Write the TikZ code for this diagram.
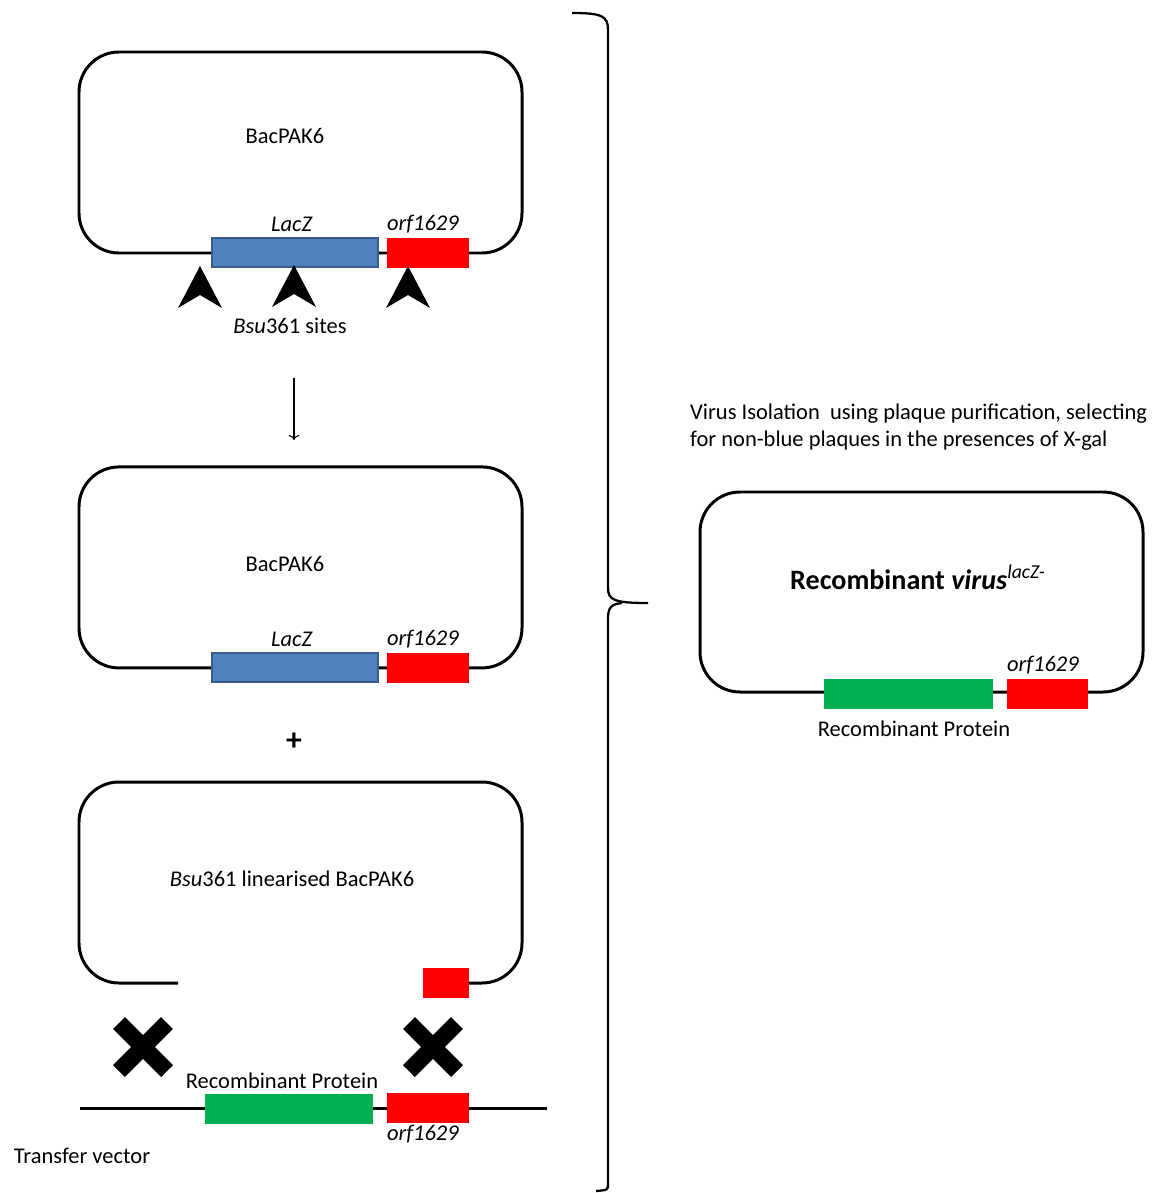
\documentclass[tikz,border=0pt]{standalone}
\usepackage{fontspec}
\setmainfont{Carlito}
\usetikzlibrary{arrows.meta}
\definecolor{laczblue}{HTML}{4F81BD}
\definecolor{laczedge}{HTML}{385D8A}
\definecolor{protgreen}{HTML}{00B050}
\newcommand{\cutsite}[2]{\fill (#1,#2) -- ++(22,42) -- ++(-22,-13) -- ++(-22,13) -- cycle;}
\newcommand{\bigcross}[2]{\draw[line width=9.5pt] (#1-24,#2-24) -- (#1+24,#2+24) (#1-24,#2+24) -- (#1+24,#2-24);}

\begin{document}
\begin{tikzpicture}[x=0.02cm, y=-0.02cm, font=\fontsize{12.8}{15}\selectfont,
    vec/.style={line width=1.7pt, rounded corners=0.8cm},
    lacz/.style={fill=laczblue, draw=laczedge, line width=1.3pt},
    orf/.style={fill=red, draw=red, line width=0.4pt},
    prot/.style={fill=protgreen, draw=protgreen, line width=0.4pt}]
    \useasboundingbox (0,0) rectangle (1162,1193);

    % BacPAK6 before and after, same layout
    \begin{scope}
        \draw[vec] (79,52) rectangle (522,253);
        \draw (285,136) node (bacA) {BacPAK6};
        \draw[lacz] (212,238) rectangle (378,267); \draw[orf] (387,238) rectangle (468,267);
        \draw (292,224) node (laczA) {\textit{LacZ}}; \draw (423,224) node (orfA) {\textit{orf1629}};
        \cutsite{200}{266} \cutsite{294}{265} \cutsite{408}{266}
        \draw (290,326) node (sites) {\textit{Bsu}361 sites};
    \end{scope}

    \coordinate (arrtop) at (294,378); \coordinate (arrbot) at (294,440);
    \draw[->, line width=0.6pt] (arrtop) -- (arrbot);

    \begin{scope}[yshift=-8.3cm]
        \draw[vec] (79,52) rectangle (522,253);
        \draw (285,149) node (bacB) {BacPAK6};
        \draw[lacz] (212,238) rectangle (378,267); \draw[orf] (387,238) rectangle (468,267);
        \draw (292,224) node (laczB) {\textit{LacZ}}; \draw (423,224) node (orfB) {\textit{orf1629}};
    \end{scope}

    \draw (294,742) node (plus) {\fontsize{18}{18}\selectfont\bfseries +};

    % linearised vector
    \draw[vec] (178,983) -| (79,782) -| (522,983) -- (468,983);
    \draw (292,879) node (lin) {\textit{Bsu}361 linearised BacPAK6};
    \draw[orf] (423,968) rectangle (468,997);

    \bigcross{143}{1047} \bigcross{433}{1047}

    % transfer vector
    \draw[line width=1.7pt] (80,1108) -- (547,1108);
    \draw[prot] (205,1094) rectangle (372,1123); \draw[orf] (387,1093) rectangle (468,1122);
    \draw (282,1081) node (protA) {Recombinant Protein};
    \draw (423,1134) node (orfC) {\textit{orf1629}};
    \draw (82,1156) node (tv) {Transfer vector};

    % brace
    \draw[line width=1.3pt] (572,13) .. controls (602,13) and (608,16) .. (608,30) -- (608,588) .. controls (608,600) and (614,603) .. (648,603);
    \draw[line width=1.3pt] (622,603) .. controls (612,604) and (608,607) .. (608,618) -- (608,1184) .. controls (608,1190) .. (596,1191);

    % recombinant virus
    \draw (684,414) node[anchor=west] (isoA) {Virus Isolation\ \ using plaque purification, selecting};
    \draw (684,441) node[anchor=west] (isoB) {for non-blue plaques in the presences of X-gal};
    \draw[vec] (700,492) rectangle (1143,692);
    \draw (918,577) node (virus) {\fontsize{16}{19}\selectfont\bfseries Recombinant \textit{virus}\textsuperscript{\mdseries\itshape lacZ-}};
    \draw[prot] (824,679) rectangle (992,708); \draw[orf] (1007,679) rectangle (1087,708);
    \draw (1043,665) node (orfD) {\textit{orf1629}};
    \draw (914,729) node (protB) {Recombinant Protein};
\end{tikzpicture}
\end{document}
